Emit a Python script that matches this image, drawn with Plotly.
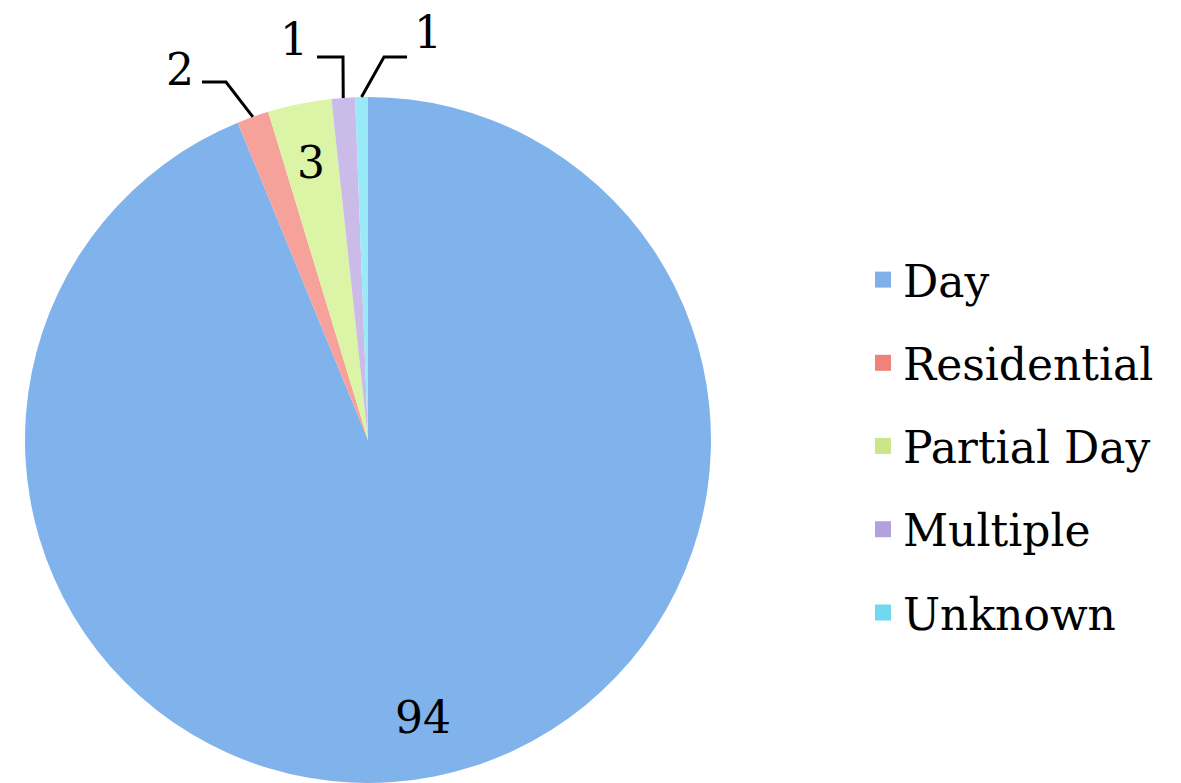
import math
import plotly.graph_objects as go

categories = ["Day", "Residential", "Partial Day", "Multiple", "Unknown"]
values = [93.8, 1.5, 3.0, 1.1, 0.6]
slice_colors = ["#80b2ec", "#f7a19b", "#dcf4a6", "#cbbbe8", "#9ae9f8"]
legend_colors = ["#7fb0ea", "#ef837c", "#c9e68a", "#b4a0da", "#70d9ef"]
label_modes = ["inside", "outside", "inside", "outside", "outside"]

FONT = "DejaVu Serif"
FS = 44
W, H = 1181, 783
OFF = 8  # page body margin

# pie geometry in screen pixels
CX, CY, R = 368, 440, 343

# outside label text centres and leader elbows/ends (screen pixels), per slice
outside_text = {1: (180, 69), 3: (294, 39), 4: (428, 33)}
outside_leader = {1: [(202, 82), (226, 82)],
                  3: [(317, 57), (343, 57)],
                  4: [(407, 57), (384, 57)]}


def px(x):
    return (x - OFF) / W


def py(y):
    return 1 - (y - OFF) / H


fig = go.Figure()
fig.add_trace(go.Pie(
    labels=categories,
    values=values,
    sort=False,
    direction="clockwise",
    rotation=0,
    marker=dict(colors=slice_colors, line=dict(width=0)),
    textinfo="none",
    showlegend=False,
    hoverinfo="label+value",
    domain=dict(x=[px(CX - R), px(CX + R)], y=[py(CY + R), py(CY - R)]),
))

total = sum(values)
cum = 0.0
annotations = []
shapes = []
for i, v in enumerate(values):
    mid = 2 * math.pi * (cum + v / 2) / total
    cum += v
    txt = f"{v:.0f}"
    if label_modes[i] == "inside":
        r = 0.825 * R
        tx, ty = CX + r * math.sin(mid), CY - r * math.cos(mid)
    else:
        rx, ry = CX + R * math.sin(mid), CY - R * math.cos(mid)
        tx, ty = outside_text[i]
        (ex, ey), (ax, ay) = outside_leader[i]
        path = (f"M {px(ex):.5f},{py(ey):.5f} L {px(ax):.5f},{py(ay):.5f} "
                f"L {px(rx):.5f},{py(ry):.5f}")
        shapes.append(dict(type="path", path=path, xref="paper", yref="paper",
                           line=dict(color="black", width=3)))
    annotations.append(dict(x=px(tx), y=py(ty), xref="paper", yref="paper",
                             xanchor="center", yanchor="middle",
                             text=txt, showarrow=False,
                             font=dict(family=FONT, size=FS, color="black")))

# legend entries
for name, col in zip(categories, legend_colors):
    fig.add_trace(go.Scatter(
        x=[None], y=[None], mode="markers", name=name,
        marker=dict(symbol="square", size=25, color=col),
        legendgroup=name, showlegend=True,
    ))

fig.update_layout(
    width=W, height=H,
    margin=dict(l=0, r=0, t=0, b=0, autoexpand=False),
    paper_bgcolor="white", plot_bgcolor="white",
    xaxis=dict(visible=False), yaxis=dict(visible=False),
    legend=dict(
        x=(903 - 40 - OFF) / W, y=1 - (446 - OFF) / H,
        xanchor="left", yanchor="middle",
        font=dict(family=FONT, size=FS, color="black"),
        tracegroupgap=23, bgcolor="rgba(0,0,0,0)",
    ),
    annotations=annotations,
    shapes=shapes,
    font=dict(family=FONT),
)

fig.write_html("out.html")
